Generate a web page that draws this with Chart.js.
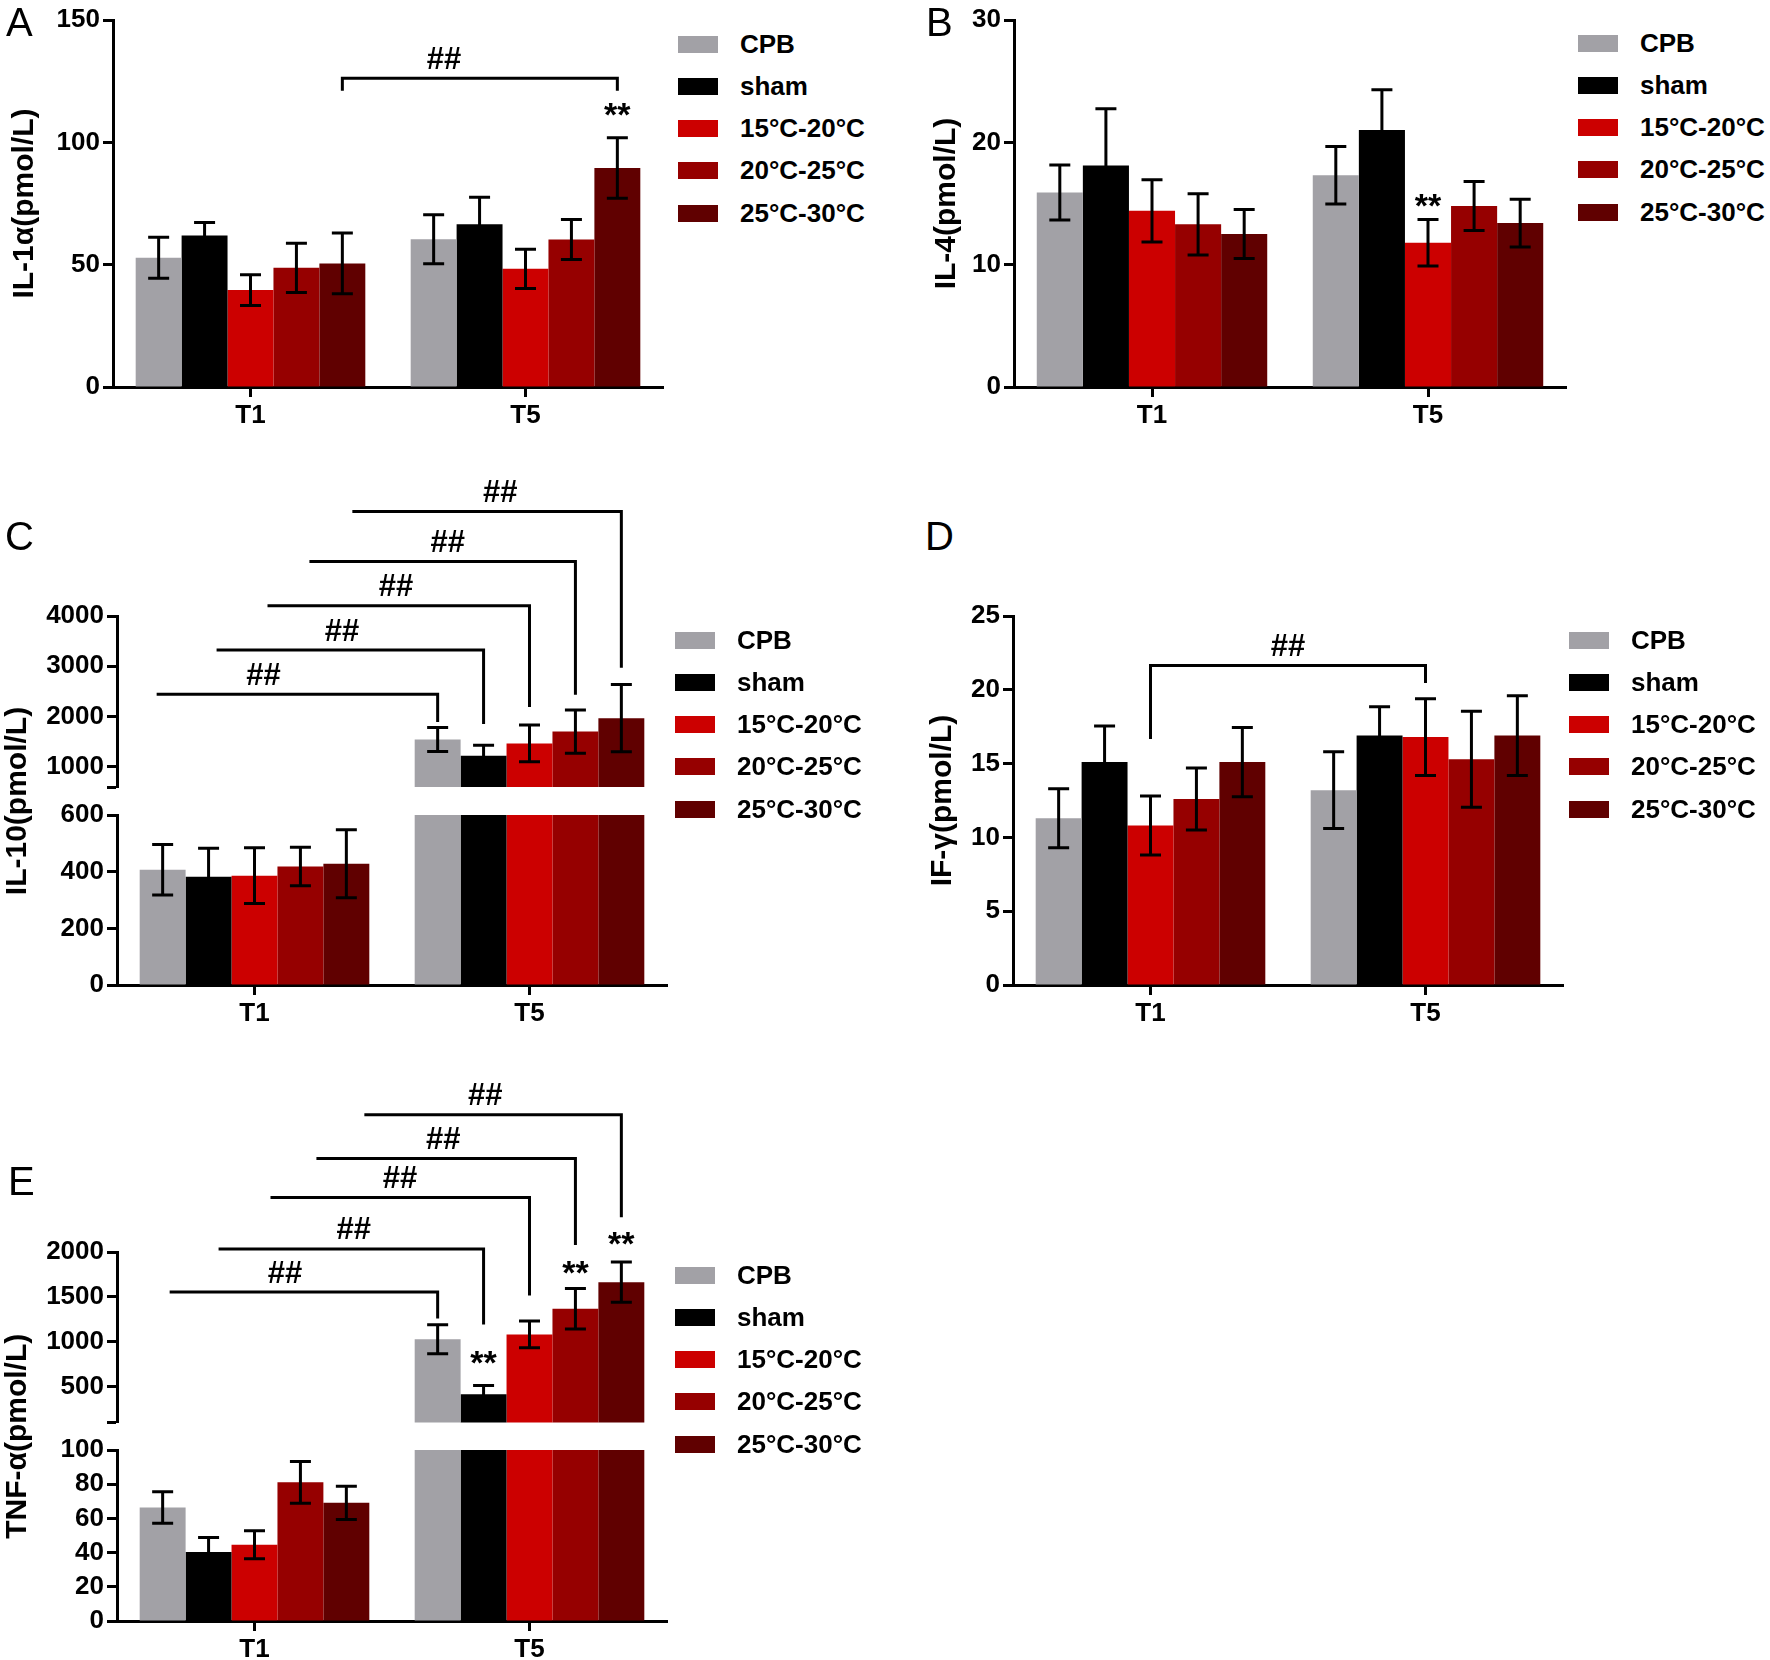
<!DOCTYPE html>
<html lang="en">
<head>
<meta charset="UTF-8">
<title>Cytokine levels T1 / T5</title>
<script src="https://cdn.jsdelivr.net/npm/chart.js"></script>
<style>
  body { margin: 0; background: #fff; }
  #page { position: relative; width: 1770px; height: 1660px; overflow: hidden; font-family: "Liberation Sans", Arial, sans-serif; }
  canvas { position: absolute; }
  .tag { position: absolute; font-size: 40px; line-height: 1; font-weight: normal; }
  .legend { position: absolute; margin: 0; padding: 0; list-style: none; }
  .legend li { height: 42.25px; display: flex; align-items: center; font-size: 26px; font-weight: bold; white-space: nowrap; }
  .legend .sw { display: inline-block; width: 40px; height: 17px; margin-right: 22px; }
</style>
</head>
<body>
<div id="page">
  <canvas id="cA" width="675" height="440" style="left:0;top:0"></canvas>
  <canvas id="cB" width="677" height="440" style="left:901px;top:0"></canvas>
  <canvas id="cC" width="679" height="568" style="left:0;top:470px"></canvas>
  <canvas id="cD" width="674" height="442" style="left:901px;top:596px"></canvas>
  <canvas id="cE" width="679" height="600" style="left:0;top:1060px"></canvas>

  <ul class="legend" id="legA" style="left:678px;top:23px"></ul>
  <ul class="legend" id="legB" style="left:1578px;top:22px"></ul>
  <ul class="legend" id="legC" style="left:675px;top:619px"></ul>
  <ul class="legend" id="legD" style="left:1569px;top:619px"></ul>
  <ul class="legend" id="legE" style="left:675px;top:1254px"></ul>

  <div class="tag" style="left:6px;top:2px">A</div>
  <div class="tag" style="left:926px;top:2px">B</div>
  <div class="tag" style="left:5px;top:516px">C</div>
  <div class="tag" style="left:925px;top:516px">D</div>
  <div class="tag" style="left:8px;top:1161px">E</div>
</div>
<script>
// groups and time points
const groups = ['CPB', 'sham', '15°C-20°C', '20°C-25°C', '25°C-30°C'];
const groupColors = ['#a2a1a6', '#000000', '#cc0000', '#960000', '#600000'];
const timePoints = ['T1', 'T5'];

// values per group: [T1, T5]
const il1aMean = [[52.8, 60.4], [61.9, 66.5], [39.6, 48.3], [48.7, 60.3], [50.5, 89.5]];
const il1aErr  = [[8.4, 10.0], [5.3, 11.1], [6.3, 8.0], [10.1, 8.2], [12.4, 12.4]];
const il4Mean  = [[15.9, 17.3], [18.1, 21.0], [14.4, 11.8], [13.3, 14.8], [12.5, 13.4]];
const il4Err   = [[2.25, 2.35], [4.65, 3.3], [2.55, 1.9], [2.5, 2.0], [2.0, 1.95]];
const il10Mean = [[407, 1545], [382, 1222], [386, 1467], [418, 1703], [428, 1969]];
const il10Err  = [[89, 240], [101, 208], [98, 366], [68, 430], [120, 668]];
const ifgMean  = [[11.3, 13.2], [15.1, 16.9], [10.8, 16.8], [12.6, 15.3], [15.1, 16.9]];
const ifgErr   = [[2.0, 2.6], [2.45, 1.95], [2.0, 2.6], [2.1, 3.25], [2.35, 2.7]];
const tnfMean  = [[66.4, 1027], [40.3, 415], [44.6, 1082], [81.1, 1367], [69.1, 1664]];
const tnfErr   = [[9.2, 162], [8.6, 98], [8.2, 150], [12.2, 225], [9.7, 224]];

// axis ticks
const il1aTicks = [0, 50, 100, 150];
const il4Ticks = [0, 10, 20, 30];
const il10LowTicks = [0, 200, 400, 600];
const il10HighTicks = [600, 1000, 2000, 3000, 4000];
const ifgTicks = [0, 5, 10, 15, 20, 25];
const tnfLowTicks = [0, 20, 40, 60, 80, 100];
const tnfHighTicks = [100, 500, 1000, 1500, 2000];

// significance marks: from/to = [time index, group index]
const il1aBrackets = [{from: [0, 4], to: [1, 4], y: 126.2, dropFrom: 121.1, dropTo: 121.1, shift: 0, at: 0.37}];
const il1aStars = [{cat: 1, group: 4, y: 113.6}];
const il4Stars = [{cat: 1, group: 2, y: 15.3}];
const il10Brackets = [
  {from: [0, 0], to: [1, 0], y: 2442, dropTo: 1893, shift: -6, at: 0.38},
  {from: [0, 1], to: [1, 1], y: 3323, dropTo: 1854, shift: 8, at: 0.47},
  {from: [0, 2], to: [1, 2], y: 4203, dropTo: 2189, shift: 13, at: 0.49},
  {from: [0, 3], to: [1, 3], y: 5083, dropTo: 2434, shift: 9, at: 0.52},
  {from: [0, 4], to: [1, 4], y: 6077, dropTo: 2970, shift: 6, at: 0.55}
];
const ifgBrackets = [{from: [0, 2], to: [1, 2], y: 21.64, dropFrom: 16.67, dropTo: 20.46, shift: 0, at: 0.5}];
const tnfBrackets = [
  {from: [0, 0], to: [1, 0], y: 1554, dropTo: 1260, shift: 7, at: 0.43},
  {from: [0, 1], to: [1, 1], y: 2034, dropTo: 1193, shift: 10, at: 0.51},
  {from: [0, 2], to: [1, 2], y: 2608, dropTo: 1515, shift: 16, at: 0.5},
  {from: [0, 3], to: [1, 3], y: 3041, dropTo: 2077, shift: 16, at: 0.49},
  {from: [0, 4], to: [1, 4], y: 3530, dropTo: 2386, shift: 18, at: 0.47}
];
const tnfStars = [{cat: 1, group: 1, y: 831}, {cat: 1, group: 3, y: 1835}, {cat: 1, group: 4, y: 2165}];

const fontFamily = "'Liberation Sans', Arial, sans-serif";
Chart.defaults.font.family = fontFamily;
Chart.defaults.font.weight = 'bold';
Chart.defaults.font.size = 26;
Chart.defaults.color = '#000';

// error bars drawn from each bar element
const errorBarPlugin = {
  id: 'errorBars',
  afterDatasetsDraw(chart) {
    const ctx = chart.ctx;
    const half = 10.5;
    ctx.save();
    ctx.strokeStyle = '#000';
    ctx.lineWidth = 3;
    chart.data.datasets.forEach((ds, di) => {
      const meta = chart.getDatasetMeta(di);
      const scale = chart.scales[meta.yAxisID];
      meta.data.forEach((bar, j) => {
        const v = ds.data[j], e = ds.errorBars[j];
        if (v < scale.min || v > scale.max) return;
        const yTop = scale.getPixelForValue(v + e);
        const yBot = scale.getPixelForValue(v - e);
        ctx.beginPath();
        ctx.moveTo(bar.x, yTop); ctx.lineTo(bar.x, yBot);
        ctx.moveTo(bar.x - half, yTop); ctx.lineTo(bar.x + half, yTop);
        ctx.moveTo(bar.x - half, yBot); ctx.lineTo(bar.x + half, yBot);
        ctx.stroke();
      });
    });
    ctx.restore();
  }
};

// ## brackets and ** marks, one plugin per chart
function sigPlugin(axisId, brackets, stars) {
  return {
    id: 'sig',
    afterDraw(chart) {
      const ctx = chart.ctx;
      const scale = chart.scales[axisId];
      const barX = (p) => chart.getDatasetMeta(p[1]).data[p[0]].x;
      ctx.save();
      ctx.strokeStyle = '#000';
      ctx.fillStyle = '#000';
      ctx.lineWidth = 3;
      ctx.textAlign = 'center';
      ctx.textBaseline = 'middle';
      ctx.font = 'bold 31px ' + fontFamily;
      brackets.forEach(b => {
        const x1 = barX(b.from) + b.shift;
        const x2 = barX(b.to);
        const y = scale.getPixelForValue(b.y);
        ctx.beginPath();
        if (b.dropFrom !== undefined) {
          ctx.moveTo(x1, scale.getPixelForValue(b.dropFrom));
          ctx.lineTo(x1, y);
        } else {
          ctx.moveTo(x1, y);
        }
        ctx.lineTo(x2, y);
        ctx.lineTo(x2, scale.getPixelForValue(b.dropTo));
        ctx.stroke();
        ctx.fillText('##', x1 + (x2 - x1) * b.at, y - 18);
      });
      ctx.font = 'bold 34px ' + fontFamily;
      stars.forEach(s => {
        ctx.fillText('**', barX([s.cat, s.group]), scale.getPixelForValue(s.y) + 8);
      });
      ctx.restore();
    }
  };
}

// legend list built from the chart's own legend labels
function htmlLegendPlugin(containerID) {
  return {
    id: 'htmlLegend',
    afterUpdate(chart) {
      const ul = document.getElementById(containerID);
      ul.innerHTML = '';
      const items = Chart.defaults.plugins.legend.labels.generateLabels(chart).slice(0, groups.length);
      items.forEach(item => {
        const li = document.createElement('li');
        const box = document.createElement('span');
        box.className = 'sw';
        box.style.background = item.fillStyle;
        const txt = document.createElement('span');
        txt.textContent = item.text;
        li.appendChild(box);
        li.appendChild(txt);
        ul.appendChild(li);
      });
    }
  };
}

function makeSets(mean, err, axisId) {
  return groups.map((g, i) => ({
    label: g,
    data: mean[i],
    errorBars: err[i],
    backgroundColor: groupColors[i],
    borderWidth: 0,
    yAxisID: axisId,
    stack: g,
    clip: 0,
    barPercentage: 1,
    categoryPercentage: 0.835
  }));
}

function xAxis(h) {
  return {
    type: 'category',
    offset: true,
    afterFit: ax => { ax.height = h; },
    grid: { offset: false, drawOnChartArea: false, drawTicks: true, tickLength: 10, tickWidth: 3, tickColor: '#000' },
    border: { display: true, color: '#000', width: 3 },
    ticks: { font: { size: 26, weight: 'bold' }, color: '#000', padding: 3 }
  };
}

function yAxis(ticks, o) {
  return {
    type: 'linear',
    position: 'left',
    stacked: false,
    min: ticks[0],
    max: ticks[ticks.length - 1],
    afterBuildTicks: ax => { ax.ticks = ticks.map(v => ({ value: v })); },
    afterFit: ax => { ax.width = o.width; },
    ticks: {
      autoSkip: false,
      font: { size: 26, weight: 'bold' },
      color: '#000',
      padding: 3,
      callback: v => (o.hide && o.hide.includes(v)) ? '' : String(v)
    },
    grid: { display: true, drawOnChartArea: false, drawTicks: true, tickLength: 10, tickWidth: 3, tickColor: '#000' },
    border: { display: true, color: '#000', width: 3 },
    title: {
      display: !!o.title,
      text: o.title || '',
      font: { size: 30, weight: 'bold' },
      color: '#000',
      padding: { top: 0, bottom: 0 }
    }
  };
}

function baseOptions(lay, scales) {
  return {
    responsive: false,
    animation: false,
    devicePixelRatio: 1,
    layout: { padding: { left: lay.pl, right: lay.pr, top: lay.pt, bottom: lay.pb } },
    plugins: { legend: { display: false }, tooltip: { enabled: false } },
    scales: scales
  };
}

function simpleChart(id, legendId, mean, err, ticks, title, lay, brackets, stars) {
  return new Chart(document.getElementById(id), {
    type: 'bar',
    data: { labels: timePoints, datasets: makeSets(mean, err, 'y') },
    options: baseOptions(lay, { x: xAxis(lay.xH), y: yAxis(ticks, { width: lay.yW, title: title }) }),
    plugins: [errorBarPlugin, sigPlugin('y', brackets, stars), htmlLegendPlugin(legendId)]
  });
}

// broken y axis: two stacked value scales with an empty gap scale carrying the title
function brokenChart(id, legendId, mean, err, lowTicks, highTicks, title, lay, brackets, stars) {
  const datasets = makeSets(mean, err, 'yLow').concat(makeSets(mean, err, 'yHigh'));
  const scales = {
    x: xAxis(lay.xH),
    yLow: Object.assign(yAxis(lowTicks, { width: lay.yW }), { stack: 'v', stackWeight: lay.low, weight: 1 }),
    yGap: {
      type: 'linear', position: 'left', stack: 'v', stackWeight: lay.gap, weight: 2, min: 0, max: 1,
      afterFit: ax => { ax.width = lay.yW; },
      ticks: { display: false },
      grid: { display: false },
      border: { display: false },
      title: { display: true, text: title, font: { size: 30, weight: 'bold' }, color: '#000', padding: { top: 0, bottom: 0 } }
    },
    yHigh: Object.assign(yAxis(highTicks, { width: lay.yW, hide: [highTicks[0]] }), { stack: 'v', stackWeight: lay.high, weight: 3 })
  };
  return new Chart(document.getElementById(id), {
    type: 'bar',
    data: { labels: timePoints, datasets: datasets },
    options: baseOptions(lay, scales),
    plugins: [errorBarPlugin, sigPlugin('yHigh', brackets, stars), htmlLegendPlugin(legendId)]
  });
}

simpleChart('cA', 'legA', il1aMean, il1aErr, il1aTicks, 'IL-1α(pmol/L)',
  { pl: 7, pr: 12, pt: 20, pb: 8, yW: 106, xH: 45 }, il1aBrackets, il1aStars);

simpleChart('cB', 'legB', il4Mean, il4Err, il4Ticks, 'IL-4(pmol/L)',
  { pl: 28, pr: 12, pt: 20, pb: 8, yW: 85, xH: 45 }, [], il4Stars);

brokenChart('cC', 'legC', il10Mean, il10Err, il10LowTicks, il10HighTicks, 'IL-10(pmol/L)',
  { pl: 0, pr: 12, pt: 146, pb: 8, yW: 117, xH: 45, high: 171, gap: 28, low: 170 }, il10Brackets, []);

simpleChart('cD', 'legD', ifgMean, ifgErr, ifgTicks, 'IF-γ(pmol/L)',
  { pl: 24, pr: 12, pt: 20, pb: 8, yW: 88, xH: 45 }, ifgBrackets, []);

brokenChart('cE', 'legE', tnfMean, tnfErr, tnfLowTicks, tnfHighTicks, 'TNF-α(pmol/L)',
  { pl: 0, pr: 12, pt: 192, pb: 0, yW: 117, xH: 39, high: 170.5, gap: 27.5, low: 171 }, tnfBrackets, tnfStars);
</script>
</body>
</html>
